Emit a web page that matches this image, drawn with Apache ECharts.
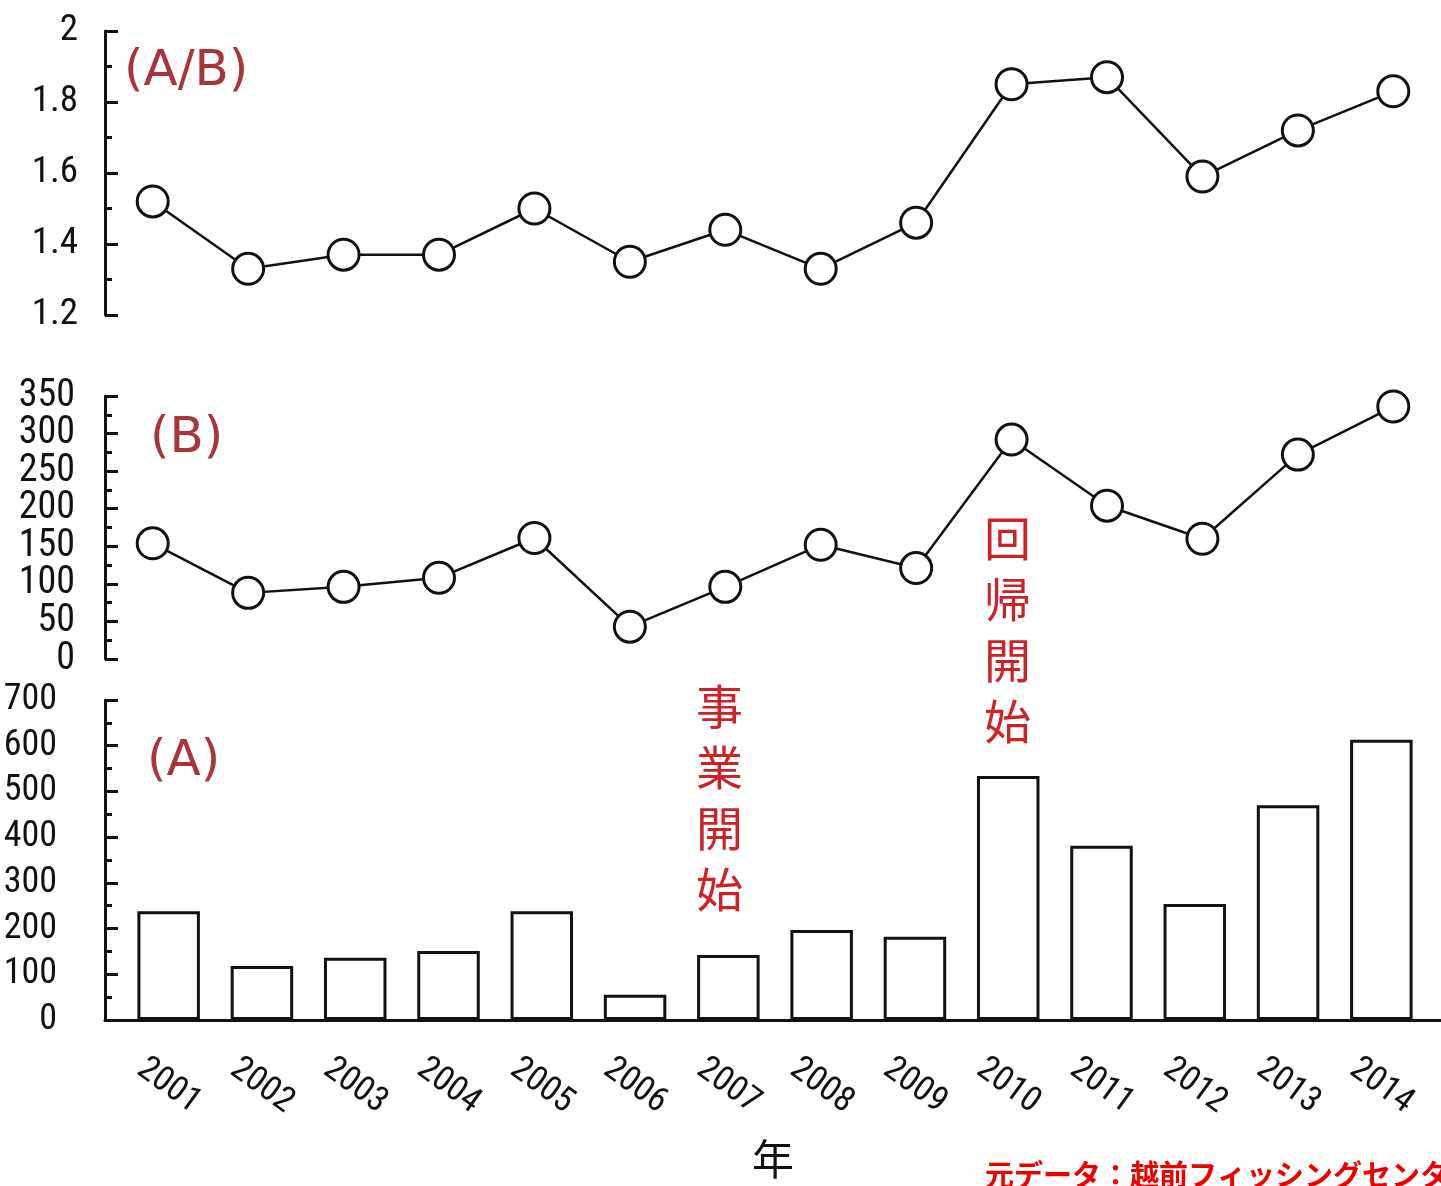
<!DOCTYPE html>
<html>
<head>
<meta charset="utf-8">
<script src="https://cdn.jsdelivr.net/npm/echarts@6/dist/echarts.min.js"></script>
<style>
  html, body { margin: 0; padding: 0; background: #fff; }
  #main { width: 1441px; height: 1186px; }
</style>
</head>
<body>
<div id="main"></div>
<script>
// 年
var years = ['2001', '2002', '2003', '2004', '2005', '2006', '2007', '2008', '2009', '2010', '2011', '2012', '2013', '2014'];
// (A/B)
var ratioAB = [1.52, 1.33, 1.37, 1.37, 1.50, 1.35, 1.44, 1.33, 1.46, 1.85, 1.87, 1.59, 1.72, 1.83];
// (B)
var countB = [154, 88, 96, 108, 161, 43, 96, 152, 121, 292, 204, 160, 272, 336];
// (A)
var countA = [238, 118, 136, 151, 238, 55, 142, 197, 182, 534, 381, 254, 470, 613];

var numFont = '"Liberation Sans Narrow", "Roboto Condensed", "Liberation Sans", sans-serif';
var jpFont = '"Noto Sans CJK JP", sans-serif';
var tagFont = '"DejaVu Sans", sans-serif';

var myChart = echarts.init(document.getElementById('main'));

function yAxisBase(gridIndex, min, max, interval, fontSize, margin) {
    return {
        type: 'value',
        gridIndex: gridIndex,
        position: 'left',
        offset: 0,
        min: min,
        max: max,
        interval: interval,
        axisLine: { show: true, lineStyle: { color: '#111', width: 3 } },
        axisTick: { show: true, inside: true, length: 13, lineStyle: { color: '#111', width: 3 } },
        minorTick: { show: true, splitNumber: 2, length: 7, lineStyle: { color: '#111', width: 3 } },
        axisLabel: {
            color: '#111', fontSize: fontSize, fontFamily: numFont, margin: margin,
            showMinLabel: true, showMaxLabel: true, hideOverlap: false
        },
        splitLine: { show: false }
    };
}

function hiddenX(gridIndex) {
    return {
        type: 'category',
        gridIndex: gridIndex,
        data: years,
        boundaryGap: true,
        axisLine: { show: false },
        axisTick: { show: false },
        axisLabel: { show: false }
    };
}

// (B) の目盛ラベルは詰まっているので、100刻みと50刻みを2本の軸に分けて表示
var midOdd = yAxisBase(1, 0, 350, 50, 38, 30);
midOdd.axisLabel.formatter = function (v) { return v % 100 === 0 ? v : ''; };
var midEven = yAxisBase(1, 0, 350, 50, 38, 30);
midEven.axisLine = { show: false };
midEven.axisTick = { show: false };
midEven.minorTick = { show: false };
midEven.axisLabel.formatter = function (v) { return v % 100 === 50 ? v : ''; };

var lineStyle = {
    type: 'line',
    symbol: 'circle',
    symbolSize: 31,
    itemStyle: { color: '#fff', borderColor: '#111', borderWidth: 3 },
    lineStyle: { color: '#111', width: 2.5 },
    emphasis: { disabled: true }
};

var option = {
    animation: false,
    backgroundColor: '#fff',
    grid: [
        { left: 105, width: 1336, top: 31, height: 284, outerBoundsMode: 'none', containLabel: false },
        { left: 105, width: 1336, top: 396, height: 263, outerBoundsMode: 'none', containLabel: false },
        { left: 105, width: 1336, top: 700, height: 320, outerBoundsMode: 'none', containLabel: false },
        // 棒グラフ用（棒の間隔が折れ線より少し狭い）
        { left: 122, width: 1306, top: 700, height: 320, outerBoundsMode: 'none', containLabel: false }
    ],
    xAxis: [
        hiddenX(0),
        hiddenX(1),
        {
            type: 'category',
            gridIndex: 2,
            data: years,
            boundaryGap: true,
            axisLine: { show: true, lineStyle: { color: '#111', width: 3 } },
            axisTick: { show: false },
            axisLabel: { show: false },
            name: '年',
            nameLocation: 'middle',
            nameGap: 118,
            nameMoveOverlap: false,
            nameTextStyle: { color: '#111', fontSize: 42, fontFamily: jpFont }
        },
        {
            type: 'category',
            gridIndex: 3,
            data: years,
            boundaryGap: true,
            axisLine: { show: false },
            axisTick: { show: false },
            axisLabel: {
                interval: 0,
                color: '#111',
                fontSize: 35,
                fontFamily: numFont,
                rotate: -36,
                align: 'center',
                verticalAlign: 'middle',
                margin: 66
            }
        }
    ],
    yAxis: [
        yAxisBase(0, 1.2, 2, 0.2, 37, 27),
        midOdd,
        yAxisBase(2, 0, 700, 100, 36, 48),
        { type: 'value', gridIndex: 3, min: 0, max: 700, show: false },
        midEven
    ],
    series: [
        Object.assign({ name: 'A/B', xAxisIndex: 0, yAxisIndex: 0, data: ratioAB }, lineStyle),
        Object.assign({ name: 'B', xAxisIndex: 1, yAxisIndex: 1, data: countB }, lineStyle),
        {
            name: 'A',
            type: 'bar',
            xAxisIndex: 3,
            yAxisIndex: 3,
            data: countA,
            barWidth: '67%',
            itemStyle: { color: '#fff', borderColor: '#111', borderWidth: 3 },
            emphasis: { disabled: true }
        }
    ],
    graphic: [
        { type: 'text', left: 124, top: 47, style: { text: '(A/B)', fill: '#a8353a', font: '50px ' + tagFont } },
        { type: 'text', left: 150, top: 414, style: { text: '(B)', fill: '#a8353a', font: '50px ' + tagFont } },
        { type: 'text', left: 147, top: 737, style: { text: '(A)', fill: '#a8353a', font: '50px ' + tagFont } },
        { type: 'text', left: 696, top: 676, style: { text: '事\n業\n開\n始', fill: '#cc2228', font: '47px ' + jpFont, lineHeight: 61 } },
        { type: 'text', left: 984, top: 508, style: { text: '回\n帰\n開\n始', fill: '#cc2228', font: '47px ' + jpFont, lineHeight: 61 } },
        { type: 'text', left: 985, top: 1160, style: { text: '元データ：越前フィッシングセンター', fill: '#ee0000', font: 'bold 29px ' + jpFont } }
    ]
};

myChart.setOption(option);
</script>
</body>
</html>
